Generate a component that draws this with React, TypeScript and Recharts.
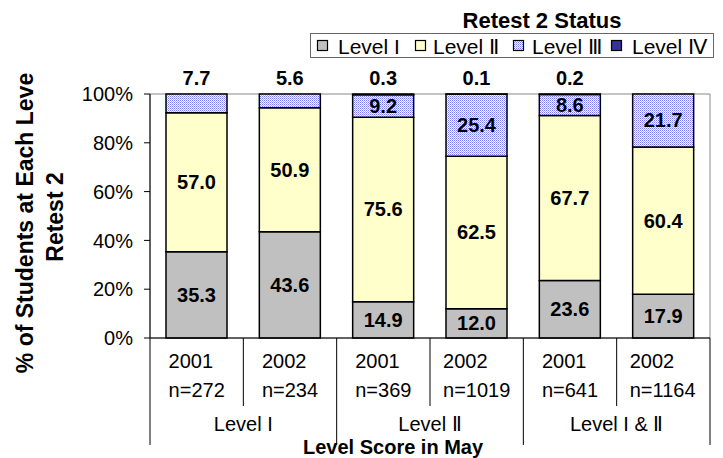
import React from 'react';
import { BarChart, Bar, XAxis, YAxis, LabelList, ReferenceArea } from 'recharts';

const years = ['2001', '2002', '2001', '2002', '2001', '2002'];
const sampleSizes = ['n=272', 'n=234', 'n=369', 'n=1019', 'n=641', 'n=1164'];
const groupNames = ['Level I', 'Level Ⅱ', 'Level I & Ⅱ'];
const level1 = [35.3, 43.6, 14.9, 12.0, 23.6, 17.9];
const level2 = [57.0, 50.9, 75.6, 62.5, 67.7, 60.4];
const level3 = [7.7, 5.6, 9.2, 25.4, 8.6, 21.7];
const level4 = [0, 0, 0.3, 0.1, 0.2, 0];
const yTicks = [0, 0.2, 0.4, 0.6, 0.8, 1];
const seriesNames = ['Level I', 'Level Ⅱ', 'Level Ⅲ', 'Level Ⅳ'];

const FONT = '"Liberation Sans", Arial, sans-serif';
const W = 723;
const H = 458;
const PLOT_LEFT = 150;
const PLOT_RIGHT = 710;
const PLOT_TOP = 94;
const PLOT_BOTTOM = 338;
const BAND = (PLOT_RIGHT - PLOT_LEFT) / years.length;

const data = years.map((year, i) => ({
  key: `c${i}`,
  year,
  l1: level1[i],
  l2: level2[i],
  l3: level3[i],
  l4: level4[i],
}));

const COLORS = ['#C0C0C0', '#FFFFCC', 'url(#l3dots)', '#333399'];

// approx width of the n= label in Arial, used to left-align the two lines
const textWidth = (s: string, fs: number) =>
  s.split('').reduce((w, ch) => w + (ch === '=' ? 0.584 : 0.556), 0) * fs;

const XTick = (props: any) => {
  const { x, payload } = props;
  const i = payload.index;
  const fs = 20;
  const start = x - textWidth(sampleSizes[i], fs) / 2;
  const left = x - BAND / 2;
  const groupStart = i % 2 === 0;
  return (
    <g>
      <line x1={left} x2={left} y1={PLOT_BOTTOM} y2={groupStart ? 445 : 406} stroke="#000" strokeWidth={1} />
      {i === years.length - 1 && (
        <line x1={x + BAND / 2} x2={x + BAND / 2} y1={PLOT_BOTTOM} y2={445} stroke="#000" strokeWidth={1} />
      )}
      <text x={start} y={361} dominantBaseline="central" fontSize={fs} fontFamily={FONT} fill="#000">
        {years[i]}
      </text>
      <text x={start} y={390} dominantBaseline="central" fontSize={fs} fontFamily={FONT} fill="#000">
        {sampleSizes[i]}
      </text>
      {!groupStart && (
        <text x={left} y={424} textAnchor="middle" dominantBaseline="central" fontSize={fs} fontFamily={FONT} fill="#000">
          {groupNames[(i - 1) / 2]}
        </text>
      )}
    </g>
  );
};

// zero-height segments are skipped by recharts, so the category is found from the bar's x
const makeLabel = (vals: number[], mode: 'in' | 'l3' | 'l4') => (props: any) => {
  const vb = props.viewBox || props;
  const x = vb.x ?? props.x;
  const y = vb.y ?? props.y;
  const width = vb.width ?? props.width;
  const height = vb.height ?? props.height;
  const idx = Math.floor((x + width / 2 - PLOT_LEFT) / BAND);
  const v = vals[idx];
  if (!v) return null;
  let cy = y + height / 2;
  if (mode === 'l4' || (mode === 'l3' && v < 8)) cy = y - 16;
  return (
    <text
      x={x + width / 2}
      y={cy}
      textAnchor="middle"
      dominantBaseline="central"
      fontSize={20}
      fontWeight="bold"
      fontFamily={FONT}
      fill="#000"
    >
      {v.toFixed(1)}
    </text>
  );
};

const legendIcons = [317, 415, 513, 611];
const legendText = [338, 433, 532, 632];

export default function App() {
  return (
    <div style={{ position: 'absolute', left: 0, top: 0, width: W, height: H, background: '#fff' }}>
      <svg width={0} height={0} style={{ position: 'absolute' }}>
        <defs>
          <pattern id="l3dots" width={2} height={2} patternUnits="userSpaceOnUse">
            <rect width={2} height={2} fill="#ffffff" />
            <rect x={0} y={0} width={1} height={1} fill="#7777ee" />
            <rect x={1} y={1} width={1} height={1} fill="#aaaaff" />
          </pattern>
        </defs>
      </svg>
      <BarChart
        width={W}
        height={H}
        data={data}
        stackOffset="expand"
        margin={{ top: PLOT_TOP, right: W - PLOT_RIGHT, bottom: 0, left: 0 }}
      >
        <ReferenceArea y1={0} y2={1} fill="none" stroke="#888" strokeWidth={1} ifOverflow="visible" />
        <XAxis
          dataKey="key"
          height={H - PLOT_BOTTOM}
          axisLine={{ stroke: '#000' }}
          tickLine={false}
          interval={0}
          tick={<XTick />}
        />
        <YAxis
          width={PLOT_LEFT}
          domain={[0, 1]}
          ticks={yTicks}
          tickFormatter={(v: number) => `${Math.round(v * 100)}%`}
          axisLine={{ stroke: '#000' }}
          tickLine={{ stroke: '#000' }}
          tickSize={6}
          tickMargin={11}
          tick={{ fontSize: 20, fill: '#000', fontFamily: FONT }}
        />
        <Bar dataKey="l1" stackId="s" fill={COLORS[0]} stroke="#000" strokeWidth={1.5} barSize={61} isAnimationActive={false}>
          <LabelList dataKey="l1" content={makeLabel(level1, 'in')} />
        </Bar>
        <Bar dataKey="l2" stackId="s" fill={COLORS[1]} stroke="#000" strokeWidth={1.5} barSize={61} isAnimationActive={false}>
          <LabelList dataKey="l2" content={makeLabel(level2, 'in')} />
        </Bar>
        <Bar dataKey="l3" stackId="s" fill={COLORS[2]} stroke="#000" strokeWidth={1.5} barSize={61} isAnimationActive={false}>
          <LabelList dataKey="l3" content={makeLabel(level3, 'l3')} />
        </Bar>
        <Bar dataKey="l4" stackId="s" fill={COLORS[3]} stroke="#000" strokeWidth={1.5} barSize={61} isAnimationActive={false}>
          <LabelList dataKey="l4" content={makeLabel(level4, 'l4')} />
        </Bar>
      </BarChart>
      <svg
        width={W}
        height={H}
        style={{ position: 'absolute', left: 0, top: 0, pointerEvents: 'none' }}
      >
        <text x={542} y={20} textAnchor="middle" dominantBaseline="central" fontSize={22} fontWeight="bold" fontFamily={FONT}>
          Retest 2 Status
        </text>
        <rect x={310.5} y={33.5} width={403} height={24} fill="#fff" stroke="#666" strokeWidth={1} />
        {seriesNames.map((name, i) => (
          <g key={name}>
            <rect x={legendIcons[i] + 0.5} y={40.5} width={10} height={10} fill={COLORS[i]} stroke="#000" strokeWidth={1.2} />
            <text x={legendText[i]} y={46} dominantBaseline="central" fontSize={21} fontFamily={FONT}>
              {name}
            </text>
          </g>
        ))}
        <text
          transform="translate(25,223) rotate(-90)"
          textAnchor="middle"
          dominantBaseline="central"
          fontSize={23}
          fontWeight="bold"
          fontFamily={FONT}
        >
          % of Students at Each Leve
        </text>
        <text
          transform="translate(55,217) rotate(-90)"
          textAnchor="middle"
          dominantBaseline="central"
          fontSize={23}
          fontWeight="bold"
          fontFamily={FONT}
        >
          Retest 2
        </text>
        <text x={303} y={447} dominantBaseline="central" fontSize={20} fontWeight="bold" fontFamily={FONT}>
          Level Score in May
        </text>
      </svg>
    </div>
  );
}
